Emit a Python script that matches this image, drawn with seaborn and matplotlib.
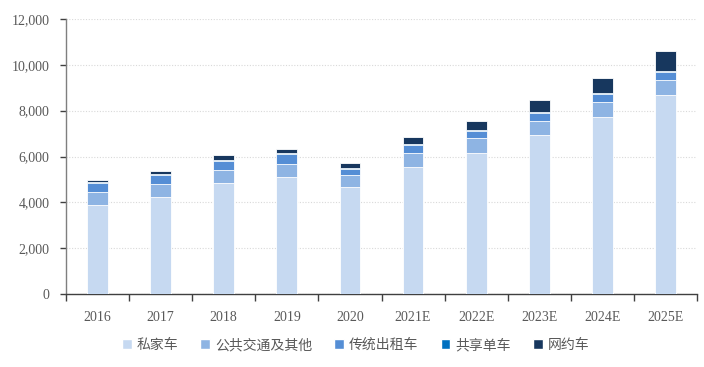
import numpy as np
import pandas as pd
import seaborn as sns
import matplotlib.pyplot as plt
from matplotlib.ticker import FuncFormatter, FixedLocator
from matplotlib.patches import Patch

years = ['2016', '2017', '2018', '2019', '2020', '2021E', '2022E', '2023E', '2024E', '2025E']
series_names = ['私家车', '公共交通及其他', '传统出租车', '共享单车', '网约车']
private_car = [3880, 4220, 4830, 5090, 4680, 5550, 6170, 6920, 7740, 8700]
public_other = [560, 570, 580, 600, 510, 600, 620, 640, 640, 650]
taxi = [420, 400, 410, 400, 280, 340, 320, 350, 350, 350]
shared_bike = [20, 50, 40, 50, 40, 40, 40, 40, 40, 40]
ride_hailing = [90, 130, 190, 200, 210, 310, 410, 500, 650, 850]
colors = ['#c6d9f1', '#8eb4e3', '#558ed5', '#0070c0', '#17375e']

sns.set_style('white')
plt.rcParams['font.family'] = ['Liberation Serif', 'Noto Sans CJK SC', 'DejaVu Sans']

layers = [private_car, public_other, taxi, shared_bike, ride_hailing]
cum = np.cumsum(np.array(layers), axis=0)

fig = plt.figure(figsize=(7.04, 3.67), dpi=100)
ax = fig.add_axes([66 / 704, 73 / 367, 631 / 704, 275 / 367])

# draw cumulative totals from top layer down so each layer shows as a stack
for i in range(len(layers) - 1, -1, -1):
    df = pd.DataFrame({'year': years, 'value': cum[i]})
    sns.barplot(data=df, x='year', y='value', color=colors[i], saturation=1,
                width=0.33, edgecolor='white', linewidth=0.6, ax=ax, zorder=3)

ax.set_ylim(0, 12000)
ax.set_xlim(-0.5, len(years) - 0.5)
ax.set_yticks(range(0, 12001, 2000))
ax.yaxis.set_major_formatter(FuncFormatter(lambda v, p: f'{int(v):,}'))
ax.grid(axis='y', linestyle=(0, (1, 1.5)), color='#d9d9d9', linewidth=0.8, zorder=0)
ax.set_axisbelow(True)
ax.set_xlabel('')
ax.set_ylabel('')

for s in ['top', 'right']:
    ax.spines[s].set_visible(False)
ax.spines['left'].set_color('#7f7f7f')
ax.spines['bottom'].set_color('#404040')
ax.spines['left'].set_linewidth(1.0)
ax.spines['bottom'].set_linewidth(1.0)

ax.tick_params(axis='y', left=True, length=4, width=1, color='#404040',
               labelsize=10, labelcolor='#595959', pad=8)
ax.tick_params(axis='x', which='major', bottom=False, labelsize=10,
               labelcolor='#595959', pad=9)
ax.xaxis.set_minor_locator(FixedLocator(np.arange(-0.5, len(years), 1.0)))
ax.tick_params(axis='x', which='minor', bottom=True, length=5, width=1, color='#404040')

handles = [Patch(facecolor=c, edgecolor='white', label=n) for c, n in zip(colors, series_names)]
fig.legend(handles=handles, loc='center', bbox_to_anchor=(0.505, 0.06), ncol=5,
           frameon=False, handlelength=0.7, handleheight=0.7, handletextpad=0.35,
           columnspacing=1.6, prop={'family': ['Noto Sans CJK SC'], 'size': 10},
           labelcolor='#595959')

fig.savefig('out.png', dpi=100)
